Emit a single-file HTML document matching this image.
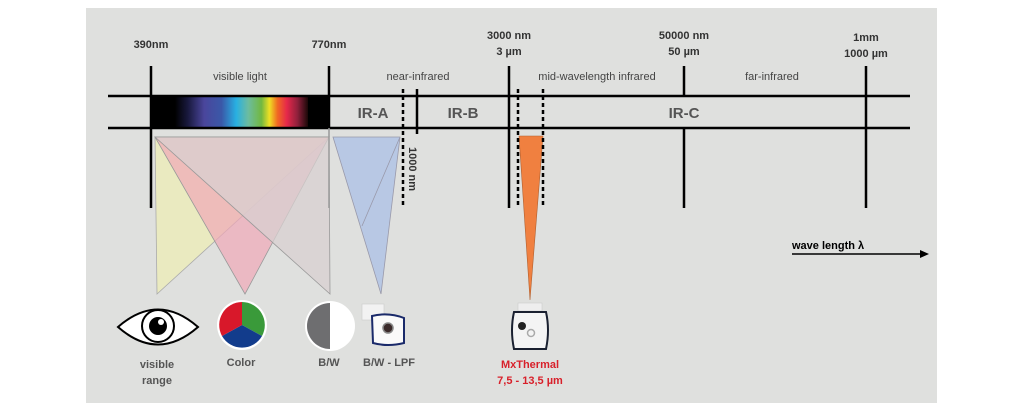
<!DOCTYPE html>
<html><head><meta charset="utf-8"><style>
html,body{margin:0;padding:0;background:#fff;}
svg{display:block;}
text{font-family:"Liberation Sans",sans-serif;}
</style></head><body>
<svg width="1024" height="412" viewBox="0 0 1024 412" xmlns="http://www.w3.org/2000/svg">
<defs>
<linearGradient id="spec" x1="0" x2="1" y1="0" y2="0">
<stop offset="0" stop-color="#000"/>
<stop offset="0.1" stop-color="#1a1a40"/>
<stop offset="0.22" stop-color="#4a469c"/>
<stop offset="0.35" stop-color="#3a58a8"/>
<stop offset="0.46" stop-color="#28b0e2"/>
<stop offset="0.55" stop-color="#6cbca0"/>
<stop offset="0.65" stop-color="#72b840"/>
<stop offset="0.71" stop-color="#eee024"/>
<stop offset="0.77" stop-color="#f06a22"/>
<stop offset="0.84" stop-color="#e6284a"/>
<stop offset="0.92" stop-color="#90203c"/>
<stop offset="1" stop-color="#1a0808"/>
</linearGradient>
</defs>
<rect x="86" y="8" width="851" height="395" fill="#dfe0de"/>

<polygon points="155,137 329,137 157,294" fill="#eaeac0" stroke="#aaa" stroke-width="0.8"/>
<polygon points="155,137 329,137 245,294" fill="#f0a8b8" fill-opacity="0.7" stroke="#999" stroke-width="0.8"/>
<polygon points="155,137 329,137 330,294" fill="#d8d0d0" fill-opacity="0.75" stroke="#999" stroke-width="0.8"/>
<polygon points="333,137 400,137 381,294" fill="#b8c8e4" stroke="#99a" stroke-width="0.8"/>
<line x1="400" y1="137" x2="362" y2="226" stroke="#99a" stroke-width="0.8"/>
<polygon points="519,136 543,136 530,300" fill="#f08040" stroke="#b06030" stroke-width="0.6"/>

<rect x="151" y="96" width="178" height="32" fill="#000"/>
<rect x="175" y="96" width="133" height="32" fill="url(#spec)"/>

<g stroke="#000" stroke-width="2.5">
<line x1="108" y1="96" x2="910" y2="96"/>
<line x1="108" y1="128" x2="910" y2="128"/>
<line x1="151" y1="66" x2="151" y2="208"/>
<line x1="329" y1="66" x2="329" y2="128"/>
<line x1="509" y1="66" x2="509" y2="208"/>
<line x1="684" y1="66" x2="684" y2="97"/>
<line x1="684" y1="127" x2="684" y2="208"/>
<line x1="866" y1="66" x2="866" y2="208"/>
<line x1="417" y1="89" x2="417" y2="134"/>
</g>
<line x1="329" y1="128" x2="329" y2="208" stroke="#999" stroke-width="1.5"/>
<g stroke="#000" stroke-width="2.5" stroke-dasharray="4,3">
<line x1="403" y1="89" x2="403" y2="208"/>
<line x1="518" y1="89" x2="518" y2="208"/>
<line x1="543" y1="89" x2="543" y2="208"/>
</g>

<g font-size="11" font-weight="bold" fill="#333" text-anchor="middle">
<text x="151" y="48">390nm</text>
<text x="329" y="48">770nm</text>
<text x="509" y="39">3000 nm</text>
<text x="509" y="55">3 µm</text>
<text x="684" y="39">50000 nm</text>
<text x="684" y="55">50 µm</text>
<text x="866" y="41">1mm</text>
<text x="866" y="57">1000 µm</text>
</g>
<g font-size="11" fill="#444" text-anchor="middle">
<text x="240" y="80">visible light</text>
<text x="418" y="80">near-infrared</text>
<text x="597" y="80">mid-wavelength infrared</text>
<text x="772" y="80">far-infrared</text>
</g>
<g font-size="15" font-weight="bold" fill="#555" text-anchor="middle">
<text x="373" y="118">IR-A</text>
<text x="463" y="118">IR-B</text>
<text x="684" y="118">IR-C</text>
</g>
<text x="0" y="0" font-size="11" font-weight="bold" fill="#333" transform="translate(409,147) rotate(90)">1000 nm</text>

<text x="792" y="249" font-size="11" font-weight="bold" fill="#000">wave length  λ</text>
<line x1="792" y1="254" x2="922" y2="254" stroke="#000" stroke-width="1.5"/>
<polygon points="929,254 920,250 920,258" fill="#000"/>

<path d="M118,327 Q158,292 198,327 Q158,362 118,327 Z" fill="#fff" stroke="#000" stroke-width="2"/>
<circle cx="158" cy="326" r="16" fill="#fff" stroke="#000" stroke-width="2"/>
<circle cx="158" cy="326" r="9" fill="#000"/>
<circle cx="161" cy="322" r="3" fill="#fff"/>

<circle cx="242" cy="325" r="25" fill="#fff"/>
<path d="M242,325 L242,302 A23,23 0 0 1 262,336 Z" fill="#3a9a3a"/>
<path d="M242,325 L262,336 A23,23 0 0 1 222,336 Z" fill="#123c8c"/>
<path d="M242,325 L222,336 A23,23 0 0 1 242,302 Z" fill="#d8182a"/>

<circle cx="330" cy="326" r="25" fill="#fff"/>
<path d="M330,303 A23,23 0 0 0 330,349 Z" fill="#6e6e70"/>

<rect x="362" y="304" width="22" height="16" fill="#f2f2f2" stroke="#ccc" stroke-width="0.6"/>
<path d="M372,316 Q388,312 404,318 L404,343 Q388,347 373,343 Z" fill="#fafafa" stroke="#1a2a6a" stroke-width="2"/>
<circle cx="388" cy="328" r="5" fill="#3a2a2a" stroke="#888" stroke-width="1.5"/>

<rect x="518" y="303" width="24" height="8" fill="#eee" stroke="#ccc" stroke-width="0.6"/>
<path d="M514,312 L546,312 Q550,330 546,349 L514,349 Q510,330 514,312 Z" fill="#f4f4f4" stroke="#1a2030" stroke-width="2"/>
<circle cx="522" cy="326" r="4" fill="#222"/>
<circle cx="531" cy="333" r="3.5" fill="none" stroke="#aaa" stroke-width="1.5"/>

<g font-size="11" font-weight="bold" fill="#555" text-anchor="middle">
<text x="157" y="368">visible</text>
<text x="157" y="384">range</text>
<text x="241" y="366">Color</text>
<text x="329" y="366">B/W</text>
<text x="389" y="366">B/W - LPF</text>
</g>
<g font-size="11" font-weight="bold" fill="#d8202a" text-anchor="middle">
<text x="530" y="368">MxThermal</text>
<text x="530" y="384">7,5 - 13,5 µm</text>
</g>
</svg>
</body></html>
